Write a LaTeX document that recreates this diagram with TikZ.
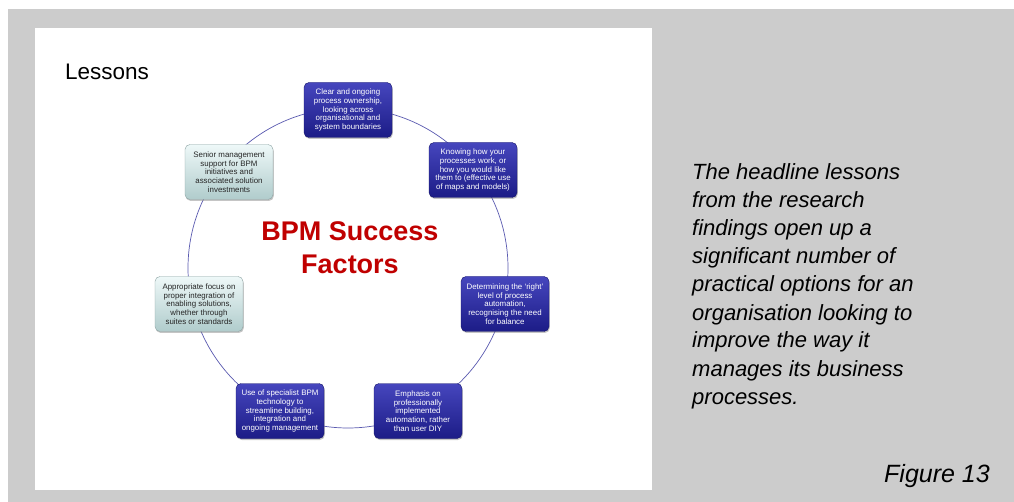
\documentclass[tikz,border=0pt]{standalone}
\usepackage{fontspec}
\setmainfont{Liberation Sans}
\usetikzlibrary{shadows}
\definecolor{pagegray}{HTML}{CCCCCC}
\definecolor{bluetop}{HTML}{4646BE}
\definecolor{bluebot}{HTML}{1C1C86}
\definecolor{paletop}{HTML}{EEF8F8}
\definecolor{palebot}{HTML}{B0CCCC}
\definecolor{ringcol}{HTML}{5A5AB0}
\definecolor{titlered}{HTML}{C00000}
\tikzset{
  factor/.style={rounded corners=5pt, minimum width=88pt, minimum height=55pt,
    align=center, inner sep=1pt,
    font=\fontsize{7.9}{8.8}\selectfont,
    drop shadow={shadow xshift=0.8pt, shadow yshift=-1.5pt, opacity=0.45}},
  darkfactor/.style={factor, top color=bluetop, bottom color=bluebot, text=white, draw=bluebot!80!black, line width=0.4pt},
  lightfactor/.style={factor, top color=paletop, bottom color=palebot, text=black!85, draw=palebot!80!black, line width=0.4pt},
  sidetext/.style={anchor=base west, font=\fontsize{22}{26}\selectfont\itshape, inner sep=0pt}
}
\begin{document}
\begin{tikzpicture}[x=1pt,y=-1pt]
\useasboundingbox (0,0) rectangle (1014,502);
\fill[white] (0,0) rectangle (1014,502);
\fill[pagegray] (8,9) rectangle (1014,502);
\fill[white] (35,28) rectangle (652,490);
\node[anchor=base west, font=\fontsize{22.5}{26}\selectfont, inner sep=0pt] (lessons) at (65,80) {Lessons};
\coordinate (c) at (348,268);
\draw[ringcol, line width=0.7pt] (c) circle (160);
\node[darkfactor] (f1) at (348,110) {Clear and ongoing\\process ownership,\\looking across\\organisational and\\system boundaries};
\node[darkfactor] (f2) at (473,170) {Knowing how your\\processes work, or\\how you would like\\them to (effective use\\of maps and models)};
\node[darkfactor] (f3) at (505,304) {Determining the `right'\\level of process\\automation,\\recognising the need\\for balance};
\node[darkfactor] (f4) at (418,411) {Emphasis on\\professionally\\implemented\\automation, rather\\than user DIY};
\node[darkfactor] (f5) at (280,411) {Use of specialist BPM\\technology to\\streamline building,\\integration and\\ongoing management};
\node[lightfactor] (f6) at (199,304) {Appropriate focus on\\proper integration of\\enabling solutions,\\whether through\\suites or standards};
\node[lightfactor] (f7) at (229,172) {Senior management\\support for BPM\\initiatives and\\associated solution\\investments};
\node[font=\fontsize{27}{33}\selectfont\bfseries, text=titlered, align=center] (title) at (350,248) {BPM Success\\Factors};
\node[sidetext] (t1) at (692,180) {The headline lessons};
\node[sidetext] (t2) at (692,208) {from the research};
\node[sidetext] (t3) at (692,236) {findings open up a};
\node[sidetext] (t4) at (692,264) {significant number of};
\node[sidetext] (t5) at (692,292) {practical options for an};
\node[sidetext] (t6) at (692,320) {organisation looking to};
\node[sidetext] (t7) at (692,348) {improve the way it};
\node[sidetext] (t8) at (692,376) {manages its business};
\node[sidetext] (t9) at (692,404) {processes.};
\node[anchor=base east, font=\fontsize{25}{30}\selectfont\itshape, inner sep=0pt] (fig) at (990,482) {Figure 13};
\end{tikzpicture}
\end{document}
